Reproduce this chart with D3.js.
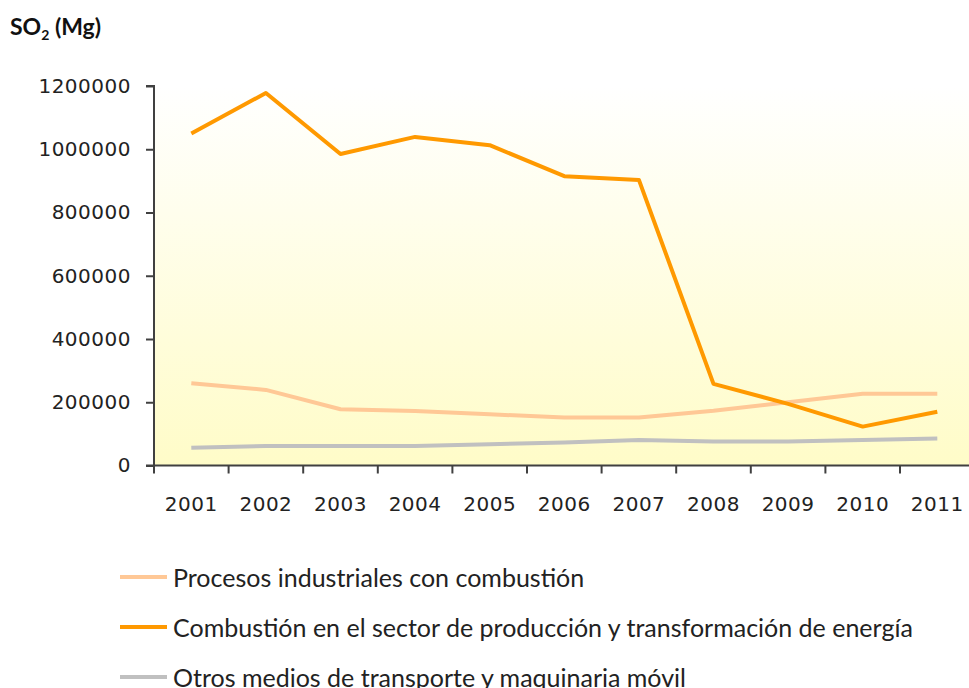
<!DOCTYPE html>
<html>
<head>
<meta charset="utf-8">
<script src="https://cdn.jsdelivr.net/npm/d3@7"></script>
<style>
  body { margin: 0; background: #fff; }
  svg { display: block; }
</style>
</head>
<body>
<script>
// data
const years = ["2001","2002","2003","2004","2005","2006","2007","2008","2009","2010","2011"];
const procesos = [260000, 239000, 178000, 172000, 162000, 152000, 152000, 173000, 200000, 227000, 227000];
const combustion = [1050000, 1178000, 985000, 1039000, 1013000, 915000, 903000, 258000, 195000, 123000, 170000];
const otros = [56000, 62000, 62000, 62000, 67000, 73000, 81000, 76000, 76000, 81000, 85000];
const yTicks = [0, 200000, 400000, 600000, 800000, 1000000, 1200000];

const series = [
  {name: "Procesos industriales con combustión", values: procesos, color: "#ffc896", w: 4},
  {name: "Combustión en el sector de producción y transformación de energía", values: combustion, color: "#ff9900", w: 4},
  {name: "Otros medios de transporte y maquinaria móvil", values: otros, color: "#c0c0c0", w: 4}
];

const width = 969;
const height = 688;
const svg = d3.select("body")
  .append("svg")
  .attr("width", width)
  .attr("height", height);

const pLeft = 154, pRight = 154 + 11 * 74.6;
const pTop = 86, pBottom = 465.5;

const x = d3.scaleBand().domain(years).range([pLeft, pRight]);
const y = d3.scaleLinear().domain([0, 1200000]).range([pBottom, pTop]);

// plot background gradient
const grad = svg.append("defs").append("linearGradient")
  .attr("id", "bg").attr("x1", 0).attr("y1", 0).attr("x2", 0).attr("y2", 1);
grad.append("stop").attr("offset", "0%").attr("stop-color", "#ffffff");
grad.append("stop").attr("offset", "100%").attr("stop-color", "#fffcc8");

svg.append("rect")
  .attr("x", pLeft).attr("y", pTop)
  .attr("width", width - pLeft).attr("height", pBottom - pTop)
  .attr("fill", "url(#bg)");

// lines
const line = d3.line()
  .x((d, i) => x(years[i]) + x.bandwidth() / 2)
  .y(d => y(d));

series.forEach(s => {
  svg.append("path")
    .attr("d", line(s.values))
    .attr("fill", "none")
    .attr("stroke", s.color)
    .attr("stroke-width", s.w)
    .attr("stroke-linejoin", "round");
});

// axes
const yAxis = d3.axisLeft(y).tickValues(yTicks).tickSize(8).tickPadding(15)
  .tickFormat(d3.format("d"));
const gy = svg.append("g").attr("transform", `translate(${pLeft},0)`).call(yAxis);
gy.select(".domain").attr("stroke", "#404040").attr("stroke-width", 2).attr("d", `M-8,${pTop}H0V${pBottom}H-8`);

const xAxis = d3.axisBottom(x).tickSize(0).tickPadding(31);
const gx = svg.append("g").attr("transform", `translate(0,${pBottom})`).call(xAxis);
gx.select(".domain").attr("stroke", "#404040").attr("stroke-width", 2).attr("d", `M${pLeft},0H${width}`);
// ticks between categories
gx.selectAll(".sep").data(years).enter().append("line")
  .attr("x1", d => x(d)).attr("x2", d => x(d))
  .attr("y1", 0).attr("y2", 8)
  .attr("stroke", "#404040").attr("stroke-width", 2);

gy.selectAll(".tick line").attr("stroke", "#404040").attr("stroke-width", 2);
svg.selectAll(".tick text")
  .attr("font-family", "DejaVu Sans")
  .attr("font-size", 20)
  .attr("letter-spacing", 0.5)
  .attr("fill", "#222");

// title
const title = svg.append("text")
  .attr("x", 10).attr("y", 35)
  .attr("font-family", "Lato, 'Open Sans', sans-serif")
  .attr("font-weight", "bold")
  .attr("font-size", 23)
  .attr("fill", "#111");
title.append("tspan").text("SO");
title.append("tspan").attr("font-size", 14).attr("dy", 5).text("2");
title.append("tspan").attr("dy", -5).text(" (Mg)");

// legend
const lg = svg.append("g").selectAll("g").data(series).enter().append("g")
  .attr("transform", (d, i) => `translate(0,${577 + i * 50})`);
lg.append("line")
  .attr("x1", 120).attr("x2", 167).attr("y1", 0).attr("y2", 0)
  .attr("stroke", d => d.color).attr("stroke-width", 4);
lg.append("text")
  .attr("x", 173).attr("y", 10)
  .attr("font-family", "Lato, 'Open Sans', sans-serif")
  .attr("font-size", 25)
  .attr("fill", "#222")
  .text(d => d.name);
</script>
</body>
</html>
